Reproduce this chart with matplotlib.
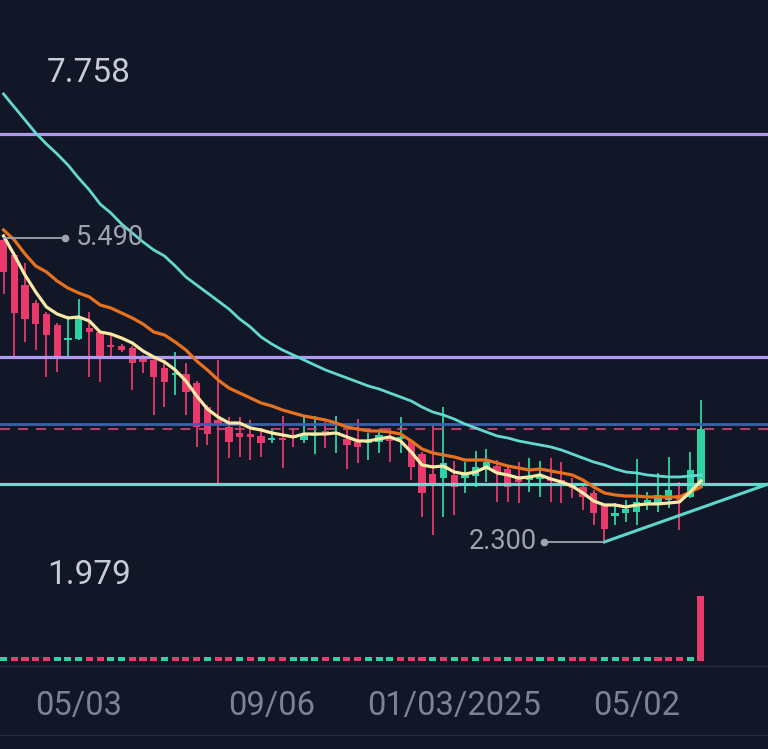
import matplotlib
matplotlib.use("Agg")
import matplotlib.pyplot as plt
from matplotlib.lines import Line2D

# weekly candles, index 0 = first visible week
opens = [5.470, 5.312, 4.997, 4.808, 4.692, 4.577, 4.419, 4.430, 4.545, 4.503,
         4.367, 4.356, 4.335, 4.241, 4.210, 4.126, 4.052, 4.063, 3.968, 3.716,
         3.580, 3.506, 3.444, 3.433, 3.412, 3.370, 3.391, 3.412, 3.370, 3.412,
         3.465, 3.433, 3.381, 3.349, 3.339, 3.349, 3.381, 3.381, 3.360, 3.223,
         3.013, 2.971, 3.003, 2.971, 2.992, 3.055, 3.097, 3.066, 2.982, 2.950,
         2.961, 2.961, 2.950, 2.919, 2.877, 2.814, 2.688, 2.573, 2.604, 2.615,
         2.688, 2.709, 2.740, 2.793, 2.772, 2.919]
highs = [5.490, 5.343, 5.228, 4.839, 4.713, 4.598, 4.671, 4.850, 4.713, 4.524,
         4.493, 4.377, 4.356, 4.262, 4.230, 4.189, 4.293, 4.178, 3.989, 3.737,
         4.210, 3.611, 3.611, 3.580, 3.475, 3.485, 3.622, 3.496, 3.632, 3.622,
         3.559, 3.622, 3.475, 3.590, 3.444, 3.475, 3.496, 3.611, 3.381, 3.244,
         3.548, 3.716, 3.150, 3.139, 3.255, 3.276, 3.160, 3.097, 3.139, 3.181,
         3.150, 3.181, 3.139, 2.971, 2.898, 2.845, 2.709, 2.709, 2.740, 3.171,
         2.824, 3.024, 3.192, 2.929, 3.244, 3.790]
lows = [4.902, 4.241, 4.399, 4.315, 4.031, 4.084, 4.241, 4.419, 4.031, 3.979,
        4.241, 4.293, 3.895, 4.073, 3.632, 3.716, 3.842, 3.632, 3.297, 3.318,
        2.919, 3.181, 3.192, 3.160, 3.192, 3.339, 3.076, 3.297, 3.339, 3.223,
        3.286, 3.234, 3.066, 3.129, 3.160, 3.234, 3.139, 3.234, 2.950, 2.562,
        2.373, 2.562, 2.583, 2.814, 2.877, 2.929, 2.720, 2.720, 2.709, 2.824,
        2.772, 2.720, 2.709, 2.761, 2.636, 2.478, 2.300, 2.478, 2.510, 2.478,
        2.636, 2.615, 2.657, 2.426, 2.761, 2.919]
closes = [5.133, 4.703, 4.640, 4.587, 4.472, 4.241, 4.440, 4.661, 4.503, 4.231,
          4.346, 4.315, 4.178, 4.189, 4.031, 3.979, 4.073, 3.874, 3.506, 3.433,
          3.538, 3.349, 3.402, 3.402, 3.339, 3.391, 3.370, 3.391, 3.433, 3.433,
          3.444, 3.454, 3.318, 3.297, 3.370, 3.423, 3.360, 3.402, 3.087, 2.814,
          2.919, 3.129, 2.877, 3.024, 3.087, 3.139, 3.024, 2.877, 2.929, 2.982,
          3.003, 2.940, 2.898, 2.866, 2.772, 2.604, 2.436, 2.604, 2.646, 2.720,
          2.740, 2.793, 2.845, 2.740, 3.055, 3.486]

# moving averages
ma_fast = [5.511, 5.311, 5.101, 4.923, 4.766, 4.692, 4.650, 4.661, 4.619, 4.503,
           4.482, 4.440, 4.388, 4.304, 4.241, 4.189, 4.105, 3.989, 3.832, 3.695,
           3.611, 3.548, 3.548, 3.496, 3.475, 3.444, 3.423, 3.402, 3.433, 3.433,
           3.433, 3.444, 3.402, 3.360, 3.360, 3.381, 3.402, 3.360, 3.244, 3.108,
           3.087, 3.097, 3.034, 3.013, 3.034, 3.087, 3.024, 3.003, 2.971, 2.982,
           3.003, 2.961, 2.929, 2.887, 2.814, 2.730, 2.688, 2.688, 2.667, 2.688,
           2.699, 2.699, 2.709, 2.720, 2.824, 2.940]
ma_mid = [5.574, 5.469, 5.322, 5.196, 5.133, 5.038, 4.965, 4.913, 4.871, 4.787,
          4.755, 4.703, 4.650, 4.587, 4.503, 4.472, 4.398, 4.314, 4.199, 4.105,
          4.000, 3.916, 3.863, 3.811, 3.758, 3.727, 3.685, 3.653, 3.622, 3.601,
          3.580, 3.548, 3.506, 3.485, 3.465, 3.465, 3.454, 3.433, 3.360, 3.276,
          3.234, 3.213, 3.192, 3.160, 3.160, 3.160, 3.129, 3.097, 3.076, 3.055,
          3.066, 3.045, 3.024, 3.003, 2.950, 2.877, 2.814, 2.793, 2.782, 2.782,
          2.772, 2.772, 2.772, 2.772, 2.824, 2.877]
ma_slow = [7.001, 6.864, 6.728, 6.591, 6.476, 6.371, 6.256, 6.119, 5.993, 5.846,
           5.752, 5.637, 5.542, 5.448, 5.364, 5.301, 5.196, 5.080, 4.996, 4.913,
           4.829, 4.745, 4.640, 4.556, 4.451, 4.377, 4.314, 4.262, 4.210, 4.157,
           4.105, 4.063, 4.021, 3.979, 3.937, 3.905, 3.863, 3.821, 3.779, 3.716,
           3.664, 3.632, 3.590, 3.538, 3.496, 3.454, 3.412, 3.391, 3.360, 3.339,
           3.318, 3.297, 3.265, 3.223, 3.181, 3.139, 3.108, 3.066, 3.034, 3.024,
           3.003, 2.992, 2.982, 2.982, 2.992, 3.003]

volumes = [1.0, 1.0, 1.0, 1.0, 1.0, 1.0, 1.0, 1.0, 1.0, 1.0,
           1.0, 1.0, 1.0, 1.0, 1.0, 1.0, 1.0, 1.0, 1.0, 1.0,
           1.0, 1.0, 1.0, 1.0, 1.0, 1.0, 1.0, 1.0, 1.0, 1.0,
           1.0, 1.0, 1.0, 1.0, 1.0, 1.0, 1.0, 1.0, 1.0, 1.0,
           1.0, 1.0, 1.0, 1.0, 1.0, 1.0, 1.0, 1.0, 1.0, 1.0,
           1.0, 1.0, 1.0, 1.0, 1.0, 1.0, 1.0, 1.0, 1.0, 1.0,
           1.0, 1.0, 1.0, 1.0, 1.0, 15.0]
vol_side = ("GPPPP" "GGGPP" "GGPPP" "GPPPG" "PPGPG" "PPGGG" "PGPPG"
            "GGPPP" "GPGPG" "PPGPP" "GPGPP" "PGGPG" "GPPPG" "P")

# drawn levels
resist_levels = [6.581, 4.241]
blue_level = 3.538
support_level = 2.909
trend_x = [56, 71.3]
trend_y = [2.300, 2.909]

tick_pos = [7, 25, 42, 59]
tick_labels = ["05/03", "09/06", "01/03/2025", "05/02"]
top_label = "7.758"
bottom_label = "1.979"

BG = "#111727"
PINK = "#ea3a6b"
GREEN = "#2ed3a3"

plt.rcParams["font.family"] = ["Roboto", "DejaVu Sans"]

fig = plt.figure(figsize=(7.68, 7.49), dpi=100, facecolor=BG)
ax = fig.add_axes([0, 0.2123, 1, 0.7877], facecolor=BG)
axv = fig.add_axes([0, 0.1175, 1, 0.0948], facecolor="none", sharex=ax)

idx = list(range(len(opens)))
colors = [GREEN if c >= o else PINK for o, c in zip(opens, closes)]
bottoms = [min(o, c) for o, c in zip(opens, closes)]
heights = [max(abs(c - o), 0.014) for o, c in zip(opens, closes)]

ax.vlines(idx, lows, highs, colors=colors, linewidth=1.3, zorder=2)
ax.bar(idx, heights, bottom=bottoms, width=0.68, color=colors, zorder=2)

# horizontal drawings
for lv in resist_levels:
    ax.axhline(lv, color="#b09af0", linewidth=2.3, zorder=2.5)
ax.axhline(blue_level, color="#3b61ad", linewidth=2.0, zorder=2.5)
ax.axhline(closes[-1], color="#c7446f", linewidth=1.3,
           linestyle=(0, (5.5, 4.5)), zorder=2.5)
ax.axhline(support_level, color="#63dcd0", linewidth=2.3, zorder=2.5)
ax.plot(trend_x, trend_y, color="#5ed6cc", linewidth=2.2, zorder=2.5)

# moving averages
ax.plot(idx, ma_slow, color="#62d8cf", linewidth=2.0, zorder=3)
ax.plot(idx, ma_mid, color="#e8711f", linewidth=2.3, zorder=3)
ax.plot(idx, ma_fast, color="#fbe9a6", linewidth=2.3, zorder=3.1)

# high / low markers
hi_i = highs.index(max(highs))
lo_i = lows.index(min(lows))
MARK = "#9ea3ad"
ax.plot([hi_i, hi_i + 5.7], [highs[hi_i], highs[hi_i]], color=MARK, lw=1.3, zorder=4)
ax.plot([hi_i + 5.7], [highs[hi_i]], "o", color=MARK, ms=4.5, zorder=4)
ax.text(hi_i + 6.7, highs[hi_i], f"{highs[hi_i]:.3f}", color=MARK,
        fontsize=19.5, va="center", ha="left", zorder=4)
ax.plot([lo_i, lo_i - 5.6], [lows[lo_i], lows[lo_i]], color=MARK, lw=1.3, zorder=4)
ax.plot([lo_i - 5.6], [lows[lo_i]], "o", color=MARK, ms=4.5, zorder=4)
ax.text(lo_i - 6.3, lows[lo_i], f"{lows[lo_i]:.3f}", color=MARK,
        fontsize=19.5, va="center", ha="right", zorder=4)

ax.text(0.061, 0.861, top_label, transform=ax.transAxes, color="#c8ccd5",
        fontsize=24, va="baseline", ha="left")
ax.text(0.061, 0.0102, bottom_label, transform=ax.transAxes, color="#c8ccd5",
        fontsize=24, va="baseline", ha="left")

ax.set_xlim(-0.33, 71.25)
ax.set_ylim(1.796, 7.987)
ax.axis("off")

# volume
vcolors = [GREEN if s == "G" else PINK for s in vol_side]
axv.bar(idx, volumes, width=0.66, color=vcolors)
axv.set_ylim(0, 16.4)
for sp in axv.spines.values():
    sp.set_visible(False)
axv.set_yticks([])
axv.set_xticks(tick_pos)
axv.set_xticklabels(tick_labels)
axv.tick_params(axis="x", length=0, pad=21, labelsize=23.5, labelcolor="#7d8392")

for yf in [1 - 666 / 749, 1 - 735 / 749]:
    fig.add_artist(Line2D([0, 1], [yf, yf], transform=fig.transFigure,
                          color="#262d3d", linewidth=1.0))

fig.savefig("out.png", dpi=100, facecolor=BG)
